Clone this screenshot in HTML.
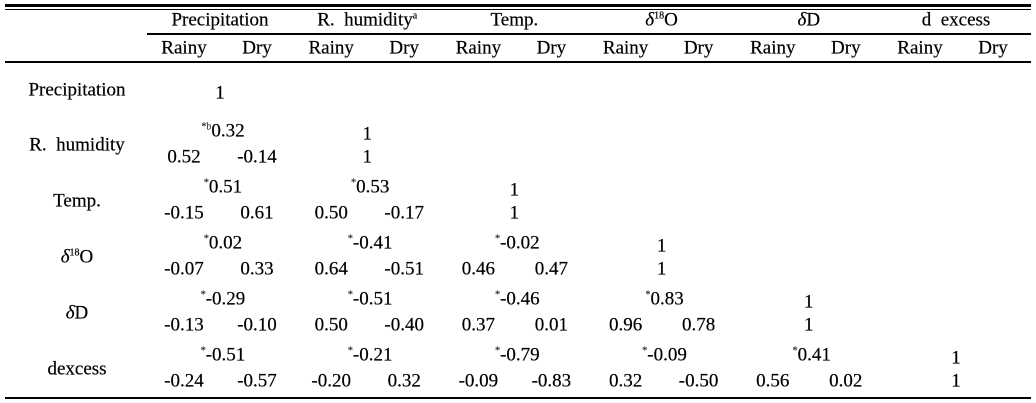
<!DOCTYPE html>
<html><head><meta charset="utf-8">
<style>
html,body{margin:0;padding:0;background:#fff;}
#t{position:relative;width:1036px;height:403px;overflow:hidden;font-family:"Liberation Serif",serif;font-size:19px;color:#000;}
#t div.c{position:absolute;white-space:nowrap;transform:translate(-50%,-50%);line-height:1;-webkit-text-stroke:0.2px #000;}
.ln{position:absolute;background:#000;}
sup{font-size:10px;vertical-align:7px;line-height:0;}
.ast{font-size:10px;vertical-align:7px;color:#666;}
i{font-style:italic;}
</style></head>
<body>
<div id="t">
<div class="ln" style="left:5px;top:4px;width:1026px;height:3px"></div>
<div class="ln" style="left:5px;top:9px;width:1026px;height:1px"></div>
<div class="ln" style="left:147px;top:33px;width:884px;height:2px"></div>
<div class="ln" style="left:5px;top:61px;width:1026px;height:2px"></div>
<div class="ln" style="left:5px;top:397px;width:1026px;height:2px"></div>
</div>
<script>
const groups=['Precipitation','R.&nbsp; humidity<sup>a</sup>','Temp.','<i>δ</i><sup>18</sup>O','<i>δ</i>D','d&nbsp; excess'];
const rowLabels=['Precipitation','R.&nbsp; humidity','Temp.','<i>δ</i><sup>18</sup>O','<i>δ</i>D','dexcess'];
const overall=[[],['0.32'],['0.51','0.53'],['0.02','-0.41','-0.02'],['-0.29','-0.51','-0.46','0.83'],['-0.51','-0.21','-0.79','-0.09','0.41']];
const rainy=[[],['0.52'],['-0.15','0.50'],['-0.07','0.64','0.46'],['-0.13','0.50','0.37','0.96'],['-0.24','-0.20','-0.09','0.32','0.56']];
const dry=[[],['-0.14'],['0.61','-0.17'],['0.33','-0.51','0.47'],['-0.10','-0.40','0.01','0.78'],['-0.57','0.32','-0.83','-0.50','0.02']];
const t=document.getElementById('t');
const gx=i=>220+i*147.2;
const rowTop=[90,131,187,243,299,355];
function put(x,y,html,name){const d=document.createElement('div');d.className='c';d.style.left=x+'px';d.style.top=y+'px';d.innerHTML=html;


t.appendChild(d);}
groups.forEach((g,i)=>{put(gx(i),20,g,'group-header');put(gx(i)-36,48,'Rainy','rainy-header');put(gx(i)+37,48,'Dry','dry-header');});
rowLabels.forEach((l,r)=>{
 const y=rowTop[r];
 put(77,r===0?y:y+14,l,'row-label');
 overall[r].forEach((v,c)=>{put(gx(c)+3,y,'<span class="ast">*'+(r===1&&c===0?'b':'')+'</span>'+v,'overall-value');});
 rainy[r].forEach((v,c)=>put(gx(c)-36,y+26,v,'rainy-value'));
 dry[r].forEach((v,c)=>put(gx(c)+37,y+26,v,'dry-value'));
 put(gx(r),y+3,'1','diagonal-one');
 if(r>0)put(gx(r),y+26,'1','diagonal-one');
});
</script>
</body></html>
